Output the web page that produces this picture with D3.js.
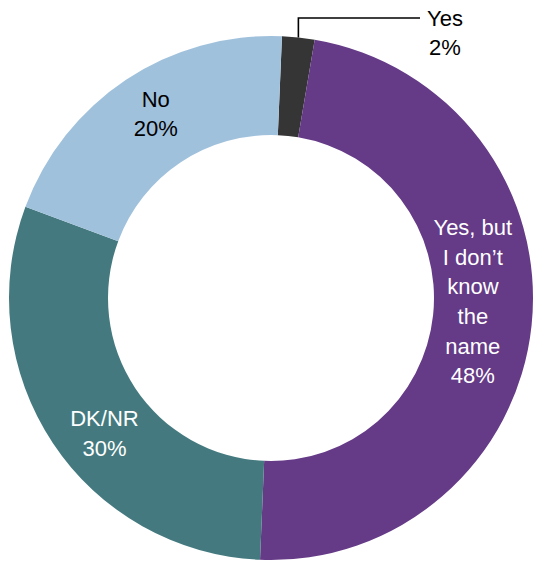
<!DOCTYPE html>
<html>
<head>
<meta charset="utf-8">
<script src="https://cdn.jsdelivr.net/npm/d3@7"></script>
<style>
  html, body { margin: 0; padding: 0; background: #ffffff; }
  svg { display: block; }
</style>
</head>
<body>
<svg id="chart" width="533" height="561"></svg>
<script>
// ---- data ----
const categories = ["Yes", "Yes, but I don\u2019t know the name", "DK/NR", "No"];
const values = [2, 48, 30, 20];
const labelLines = [["Yes", "2%"], ["Yes, but", "I don\u2019t", "know", "the", "name", "48%"], ["DK/NR", "30%"], ["No", "20%"]];
const colors = ["#353535", "#653A87", "#447A7F", "#A0C1DC"];
const textColors = ["#000000", "#ffffff", "#ffffff", "#000000"];

// ---- layout ----
const W = 533, H = 561;
const cx = 271, cy = 298;
const outerR = 262, innerR = 163;
const rotation = 2.4 * Math.PI / 180;
const fontSize = 22, lineH = 29.7;

const svg = d3.select("#chart");
const g = svg.append("g").attr("transform", `translate(${cx},${cy})`);

const data = categories.map((c, i) => ({ cat: c, value: values[i], i }));
const pie = d3.pie().value(d => d.value).sort(null)
  .startAngle(rotation).endAngle(rotation + 2 * Math.PI);
const arcs = pie(data);

const arc = d3.arc().innerRadius(innerR).outerRadius(outerR);
g.selectAll("path.slice").data(arcs).enter().append("path")
  .attr("class", "slice")
  .attr("d", arc)
  .attr("fill", d => colors[d.data.i]);

// label positions: centroid on mid-ring with small nudges
const labelArc = d3.arc().innerRadius(212).outerRadius(212);
const nudges = [null, [-9, -19], [10, 18], [2, -8]];

arcs.forEach((a, k) => {
  const i = a.data.i;
  const lines = labelLines[i];
  if (i === 0) {
    // callout for the small slice
    const mid = (a.startAngle + a.endAngle) / 2;
    const ox = outerR * Math.sin(mid), oy = -outerR * Math.cos(mid);
    const topY = 18 - cy;
    const endX = 420 - cx;
    g.append("path")
      .attr("d", `M${ox},${oy}V${topY}H${endX}`)
      .attr("fill", "none").attr("stroke", "#000").attr("stroke-width", 1.6);
    const t = g.append("text")
      .attr("text-anchor", "middle")
      .attr("font-family", "'Liberation Sans', Arial, sans-serif")
      .attr("font-size", fontSize)
      .attr("fill", textColors[i]);
    lines.forEach((ln, j) => {
      t.append("tspan").attr("x", endX + 25).attr("y", topY + 7.5 + j * lineH).text(ln);
    });
    return;
  }
  const [x0, y0] = labelArc.centroid(a);
  const [nx, ny] = nudges[i];
  const x = x0 + nx, y = y0 + ny;
  const n = lines.length;
  const firstBase = y - ((n - 1) * lineH) / 2 + fontSize * 0.36;
  const t = g.append("text")
    .attr("text-anchor", "middle")
    .attr("font-family", "'Liberation Sans', Arial, sans-serif")
    .attr("font-size", fontSize)
    .attr("fill", textColors[i]);
  lines.forEach((ln, j) => {
    t.append("tspan").attr("x", x).attr("y", firstBase + j * lineH).text(ln);
  });
});
</script>
</body>
</html>
